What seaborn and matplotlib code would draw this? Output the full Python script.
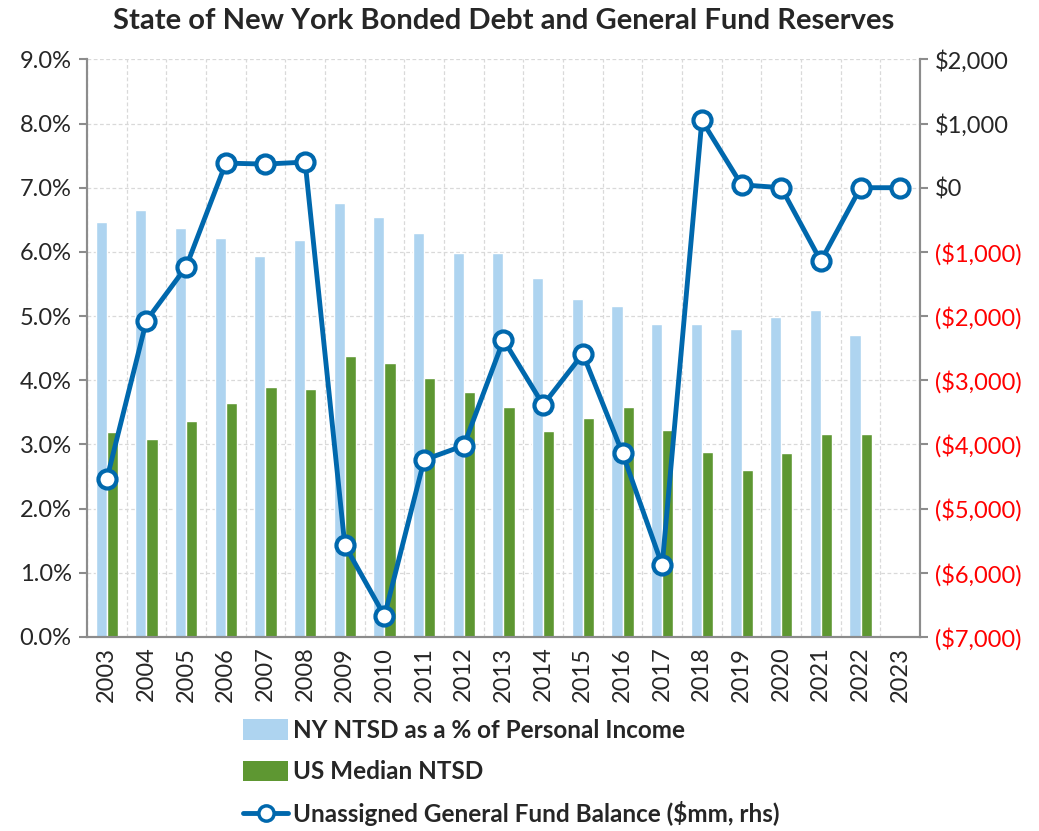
import numpy as np
import pandas as pd
import matplotlib
matplotlib.use("Agg")
import matplotlib.pyplot as plt
import matplotlib.ticker as mticker
from matplotlib.patches import Patch
from matplotlib.lines import Line2D
import seaborn as sns

# data
years = [str(y) for y in range(2003, 2024)]
ny_ntsd = [6.47, 6.66, 6.37, 6.22, 5.93, 6.19, 6.76, 6.54, 6.29, 5.98, 5.99,
           5.60, 5.26, 5.15, 4.87, 4.88, 4.80, 4.98, 5.09, 4.70, np.nan]
us_median = [3.20, 3.08, 3.37, 3.65, 3.89, 3.86, 4.37, 4.27, 4.04, 3.81, 3.58,
             3.21, 3.41, 3.59, 3.23, 2.88, 2.60, 2.87, 3.17, 3.17, np.nan]
fund_balance = [-4540, -2070, -1233, 383, 368, 399, -5571, -6672, -4241, -4018, -2371,
                -3384, -2589, -4137, -5882, 1047, 45, 0, -1144, 0, 0]

lbl_ny = "NY NTSD as a % of Personal Income"
lbl_us = "US Median NTSD"
lbl_bal = "Unassigned General Fund Balance ($mm, rhs)"

c_ny = "#AED4F0"
c_us = "#5E9732"
c_line = "#0068AD"
grid_c = "#D9D9D9"
spine_c = "#8C8C8C"

sns.set_style("white")
plt.rcParams["font.family"] = ["Lato", "DejaVu Sans"]

bars = pd.DataFrame({
    "year": years * 2,
    "value": ny_ntsd + us_median,
    "series": [lbl_ny] * len(years) + [lbl_us] * len(years),
})
line_df = pd.DataFrame({"pos": np.arange(len(years)), "balance": fund_balance})

fig = plt.figure(figsize=(10.39, 8.31), dpi=100)
ax = fig.add_axes([0.0837, 0.2335, 0.8018, 0.6951])

sns.barplot(data=bars, x="year", y="value", hue="series", order=years,
            hue_order=[lbl_ny, lbl_us], palette=[c_ny, c_us], width=0.56,
            gap=0, dodge=True, ax=ax, legend=False, saturation=1)

ax.set_ylim(0, 9)
ax.set_xlim(-0.5, len(years) - 0.5)
ax.yaxis.set_major_locator(mticker.MultipleLocator(1))
ax.yaxis.set_major_formatter(mticker.FuncFormatter(lambda v, p: f"{v:.1f}%"))
ax.set_xlabel("")
ax.set_ylabel("")

# category boundary ticks / vertical grid
ax.set_xticks(np.arange(-0.5, len(years), 1), minor=True)
ax.tick_params(axis="x", which="major", length=0, labelsize=17, rotation=90, pad=7)
ax.tick_params(axis="x", which="minor", length=6, width=1.5, color=spine_c)
ax.tick_params(axis="y", length=6, width=1.5, color=spine_c, labelsize=17, pad=5)
ax.grid(True, axis="y", which="major", color=grid_c, linestyle=(0, (3, 2)), linewidth=0.9)
ax.grid(True, axis="x", which="minor", color=grid_c, linestyle=(0, (3, 2)), linewidth=0.9)
ax.set_axisbelow(True)
for s in ["left", "bottom", "right"]:
    ax.spines[s].set_color(spine_c)
    ax.spines[s].set_linewidth(1.5)
ax.spines["top"].set_visible(False)

ax2 = ax.twinx()
sns.lineplot(data=line_df, x="pos", y="balance", ax=ax2, color=c_line, linewidth=3.5,
             marker="o", markersize=13, markerfacecolor="white",
             markeredgecolor=c_line, markeredgewidth=3, legend=False)
ax2.set_ylim(-7000, 2000)
ax2.set_xlim(-0.5, len(years) - 0.5)
ax2.yaxis.set_major_locator(mticker.MultipleLocator(1000))


def money(v, p):
    v = int(round(v))
    if v < 0:
        return f"(${-v:,})"
    return f"${v:,}"


ax2.yaxis.set_major_formatter(mticker.FuncFormatter(money))
ax2.tick_params(axis="y", length=6, width=1.5, color=spine_c, labelsize=17, pad=5)
ax2.set_ylabel("")
ax2.set_xlabel("")
for s in ["left", "bottom", "right"]:
    ax2.spines[s].set_color(spine_c)
    ax2.spines[s].set_linewidth(1.5)
ax2.spines["top"].set_visible(False)
for t, v in zip(ax2.get_yticklabels(), ax2.get_yticks()):
    if v < 0:
        t.set_color("#FF0000")

fig.suptitle("State of New York Bonded Debt and General Fund Reserves",
             x=0.485, y=0.99, fontsize=21, fontweight="bold")

handles = [
    Patch(facecolor=c_ny, edgecolor="none"),
    Patch(facecolor=c_us, edgecolor="none"),
    Line2D([], [], color=c_line, linewidth=3.5, marker="o", markersize=11,
           markerfacecolor="white", markeredgecolor=c_line, markeredgewidth=2.5),
]
fig.legend(handles, [lbl_ny, lbl_us, lbl_bal], loc="upper left",
           bbox_to_anchor=(0.234, 0.135), frameon=False, ncol=1,
           prop={"size": 17.5, "weight": "bold"}, handlelength=1.85,
           handleheight=0.9, handletextpad=0.2, labelspacing=0.75,
           borderaxespad=0, borderpad=0)

fig.savefig("out.png", dpi=100)
